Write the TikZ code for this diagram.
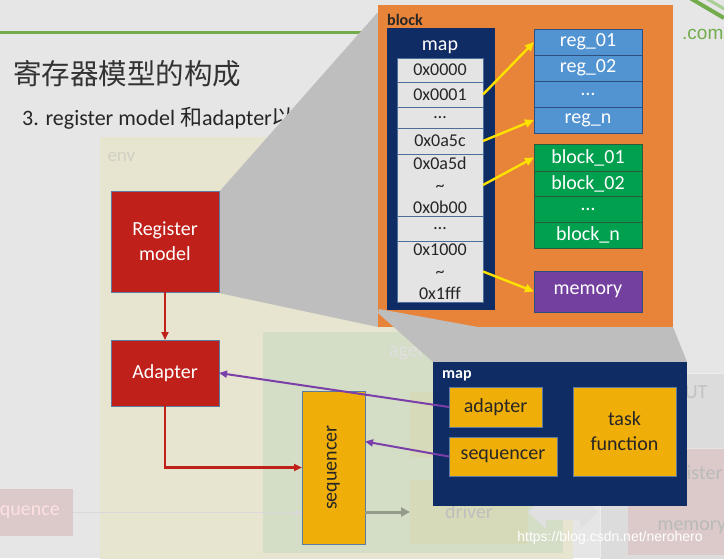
\documentclass[tikz,border=0pt]{standalone}
\usepackage{fontspec}
\setmainfont{Carlito}
\newfontfamily\cjk{Noto Sans CJK SC}
\newfontfamily\arial{Liberation Sans}
\usetikzlibrary{arrows.meta, positioning}

\definecolor{slidebg}{HTML}{E6E6E7}
\definecolor{titlegreen}{HTML}{72AC4D}
\definecolor{calloutgray}{HTML}{BEBEBE}
\definecolor{envfill}{HTML}{E7E4CF}
\definecolor{agentfill}{HTML}{D4DDC6}
\definecolor{drvfill}{HTML}{D6DAB8}
\definecolor{dutfill}{HTML}{DCDCDD}
\definecolor{fadepink}{HTML}{DCCACA}
\definecolor{uvmred}{HTML}{C0201A}
\definecolor{boxedge}{HTML}{5B7BA0}
\definecolor{blockorange}{HTML}{E8833A}
\definecolor{mapnavy}{HTML}{0F2C64}
\definecolor{cellgray}{HTML}{E4E4E4}
\definecolor{celledge}{HTML}{4C6E9B}
\definecolor{regblue}{HTML}{5293D2}
\definecolor{regedge}{HTML}{2F4F7F}
\definecolor{blkgreen}{HTML}{00A04F}
\definecolor{blkedge}{HTML}{2D5A3D}
\definecolor{mempurple}{HTML}{7440A0}
\definecolor{linkyellow}{HTML}{FFE100}
\definecolor{seqyellow}{HTML}{F0AE08}
\definecolor{linkpurple}{HTML}{7A3FA8}
\definecolor{fadetext}{HTML}{D2CFC4}

\begin{document}
\begin{tikzpicture}[x = 1pt, y = -1pt,
    box/.style = {rectangle, inner sep = 0pt, outer sep = 0pt, anchor = center,
      align = center, line width = 0.6pt},
    redbox/.style = {box, fill = uvmred, draw = boxedge, text = white,
      minimum width = 108pt, font = \fontsize{20}{25}\selectfont},
    yelbox/.style = {box, fill = seqyellow, draw = boxedge, text = black!85,
      font = \fontsize{20}{25}\selectfont},
    cell/.style = {box, fill = cellgray, draw = celledge, text = black!85,
      minimum width = 86pt, font = \fontsize{18}{22}\selectfont},
    regcell/.style = {box, fill = regblue, draw = regedge, text = white,
      minimum width = 108pt, minimum height = 26pt, font = \fontsize{20}{24}\selectfont},
    blkcell/.style = {box, fill = blkgreen, draw = blkedge, text = white,
      minimum width = 108pt, font = \fontsize{20}{24}\selectfont},
    fadebox/.style = {box, text = fadetext, font = \fontsize{20}{24}\selectfont},
    yellink/.style = {draw = linkyellow, line width = 2.4pt,
      -{Triangle[length = 9pt, width = 8pt]}},
    purplink/.style = {draw = linkpurple, line width = 2pt,
      -{Triangle[length = 8pt, width = 7pt]}},
    redlink/.style = {draw = uvmred, line width = 2.4pt,
      -{Triangle[length = 8pt, width = 7pt]}}
  ]
  \useasboundingbox (0,0) rectangle (724,558);
  \clip (0,0) rectangle (724,558);
  \fill [slidebg] (0,0) rectangle (724,558);

  \draw [titlegreen, line width = 3pt] (0,32) -- (380,32);
  \draw [titlegreen, line width = 4pt] (690,-2) -- (724,18);
  \draw [titlegreen!60, line width = 3pt] (702,-4) -- (728,11);
  \node [anchor = west, inner sep = 0pt, text = titlegreen,
    font = \arial\fontsize{19}{22}\selectfont] (dotcom) at (682,34) {.com};
  \node [anchor = west, inner sep = 0pt, text = black!80,
    font = \cjk\fontsize{28.5}{32}\selectfont] (title) at (13,74) {寄存器模型的构成};
  \node [anchor = west, inner sep = 0pt, text = black!85,
    font = \fontsize{22}{26}\selectfont] (subtitle) at (22,118)
    {3. register model {\cjk 和}adapter{\cjk 以}};

  \node [box, fill = envfill, minimum width = 473pt, minimum height = 430pt]
    (env) at (336.5,352) {};
  \node [anchor = west, text = fadetext, font = \fontsize{19}{22}\selectfont]
    (envlbl) at (104,157) {env};
  \node [box, fill = agentfill, minimum width = 300pt, minimum height = 221pt]
    (agent) at (413,442.5) {};
  \node [fadebox, text = black!12] (agentlbl) at (412,352) {agent};
  \node [box, fill = dutfill, draw = white!93!black, line width = 1pt,
    minimum width = 140pt, minimum height = 200pt] (dut) at (670,473) {};
  \node [fadebox, text = black!24] (dutlbl) at (690,392) {DUT};
  \node [box, fill = drvfill, minimum width = 118pt, minimum height = 65pt]
    (mon) at (469,424.5) {};
  \node [fadebox, fill = drvfill, text = black!25, minimum width = 118pt,
    minimum height = 64pt] (drv) at (469,512) {driver};
  \node [fadebox, fill = fadepink, draw = white!90!black, minimum width = 112pt,
    minimum height = 53pt] (rgm) at (684,474.5) {};
  \node [anchor = east, text = black!27, font = \fontsize{20}{24}\selectfont]
    (rgmlbl) at (726,474) {Register};
  \node [fadebox, fill = fadepink, minimum width = 112pt,
    minimum height = 54pt] (mem) at (684,528) {};
  \node [anchor = west, text = black!27, font = \fontsize{20}{24}\selectfont]
    (memlbl) at (654,527) {memory};
  \node [fadebox, fill = fadepink, text = white!88!red,
    minimum width = 110pt, minimum height = 47pt] (sq) at (18,512.5)
    {\hspace*{6pt}sequence};
  \fill [black!12] (528,512) -- (546,495) -- (546,504) -- (580,504) -- (580,495)
    -- (598,512) -- (580,529) -- (580,520) -- (546,520) -- (546,529) -- cycle;

  \fill [calloutgray] (219,192) -- (378,12) -- (378,327) -- (219,293) -- cycle;

  \node [redbox, minimum height = 101pt] (rm) at (165,241.5) {Register\\model};
  \node [redbox, minimum height = 66pt] (ad) at (165,373) {Adapter};
  \node [yelbox, minimum width = 63pt, minimum height = 153pt] (seq)
    at (333.5,467.5) {\rotatebox{90}{sequencer}};
  \draw [black!15, line width = 1.5pt, -{Triangle[length = 7pt, width = 6pt]}]
    (sq.east) -- (sq.east -| seq.west);
  \draw [agentfill!70!black, line width = 3pt,
    -{Triangle[length = 9pt, width = 9pt]}] (seq.east |- drv.west) -- (drv.west);
  \draw [redlink] (rm.south) -- (ad.north);
  \draw [redlink] (ad.south) |- (seq.west);

  \node [box, fill = blockorange, minimum width = 295pt, minimum height = 322pt]
    (blk) at (525.5,166) {};
  \node [anchor = west, inner sep = 0pt, text = black!85,
    font = \bfseries\fontsize{16}{19}\selectfont] (blklbl) at (387,20) {block};
  \node [box, fill = mapnavy, minimum width = 108pt, minimum height = 282pt]
    (col) at (441,169) {};
  \node [text = white, font = \fontsize{20}{24}\selectfont] (collbl) at (440,47) {map};

  \node [cell, minimum height = 24pt] (c0) at (440,70) {0x0000};
  \node [cell, minimum height = 25pt, below = 0pt of c0] (c1) {0x0001};
  \node [cell, minimum height = 21pt, below = 0pt of c1] (c2) {\ldots};
  \node [cell, minimum height = 26pt, below = 0pt of c2] (c3) {0x0a5c};
  \node [cell, minimum height = 62pt, below = 0pt of c3] (c4) {0x0a5d\\\textasciitilde\\0x0b00};
  \node [cell, minimum height = 25pt, below = 0pt of c4] (c5) {\ldots};
  \node [cell, minimum height = 61pt, below = 0pt of c5] (c6) {0x1000\\\textasciitilde\\0x1fff};

  \node [regcell] (r1) at (588,42) {reg\_01};
  \node [regcell, below = 0pt of r1] (r2) {reg\_02};
  \node [regcell, below = 0pt of r2] (r3) {\ldots};
  \node [regcell, below = 0pt of r3] (r4) {reg\_n};

  \node [blkcell, minimum height = 27pt] (b1) at (588,157.5) {block\_01};
  \node [blkcell, minimum height = 25pt, below = 0pt of b1] (b2) {block\_02};
  \node [blkcell, minimum height = 26pt, below = 0pt of b2] (b3) {\ldots};
  \node [blkcell, minimum height = 26pt, below = 0pt of b3] (b4) {block\_n};

  \node [box, fill = mempurple, draw = regedge, text = white, minimum width = 108pt,
    minimum height = 41pt, font = \fontsize{20}{24}\selectfont] (memory)
    at (588,291.5) {memory};

  \draw [yellink] (c1.east) -- (r1.west);
  \draw [yellink] (c3.east) -- (r4.west);
  \draw [yellink] (c4.east) -- (b1.west);
  \draw [yellink] (c6.east) -- (memory.west);

  \fill [calloutgray] (379,309) -- (478,327) -- (673,327) -- (687,362) -- (433,362)
    -- (378,313) -- cycle;

  \node [box, fill = mapnavy, minimum width = 254pt, minimum height = 144pt]
    (mp) at (560,434) {};
  \node [anchor = west, inner sep = 0pt, text = white,
    font = \bfseries\fontsize{16}{19}\selectfont] (mplbl) at (442,376) {map};
  \node [yelbox, minimum width = 93pt, minimum height = 40pt] (madp)
    at (495.5,407) {adapter};
  \node [yelbox, minimum width = 108pt, minimum height = 39pt] (mseq)
    at (503,456.5) {sequencer};
  \node [yelbox, minimum width = 103pt, minimum height = 89pt] (task)
    at (624.5,431.5) {task\\function};

  \draw [purplink] (madp.west) -- (ad.east);
  \draw [purplink] (mseq.west) -- ([yshift = 26pt] seq.east);

  \node [text = white, font = \arial\fontsize{14}{16}\selectfont] (wm)
    at (610,538) {https://blog.csdn.net/nerohero};
\end{tikzpicture}
\end{document}
